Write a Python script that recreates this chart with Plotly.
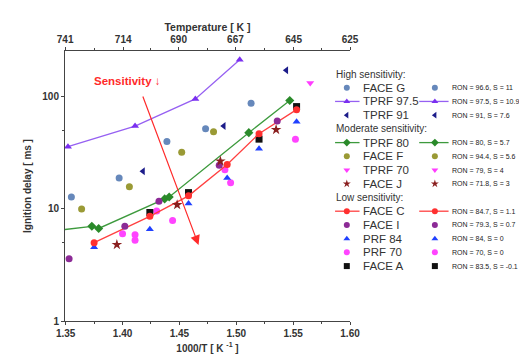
import plotly.graph_objects as go
import numpy as np

# ---------------- data ----------------
face_g_x = [1.355, 1.397, 1.439, 1.473, 1.513]
face_g_y = [12.8, 18.9, 40.0, 52.0, 88.0]

tprf975_x = [1.352, 1.411, 1.464, 1.503]
tprf975_y = [36.0, 55.0, 96.0, 215.0]

tprf91_x = [1.418, 1.489, 1.544]
tprf91_y = [21.7, 55.0, 173.0]

tprf80_x = [1.346, 1.373, 1.379, 1.437, 1.441, 1.511, 1.547]
tprf80_y = [6.5, 7.0, 6.7, 12.3, 12.8, 48.0, 93.0]

face_f_x = [1.364, 1.406, 1.452, 1.480]
face_f_y = [10.0, 15.8, 32.0, 49.0]

tprf70_x = [1.565]
tprf70_y = [133.0]

face_j_x = [1.395, 1.448, 1.486, 1.535]
face_j_y = [4.8, 10.9, 26.7, 51.0]

face_a_x = [1.424, 1.458, 1.520, 1.553]
face_a_y = [9.3, 14.0, 42.0, 82.0]

prf84_x = [1.375, 1.424, 1.458, 1.492, 1.520, 1.553]
prf84_y = [4.55, 6.6, 11.2, 18.9, 34.5, 60.0]

prf70_x = [1.400, 1.411, 1.411, 1.430, 1.444, 1.490, 1.495, 1.552]
prf70_y = [6.0, 5.9, 5.25, 9.6, 7.9, 22.4, 17.1, 42.0]

face_i_x = [1.353, 1.402, 1.432, 1.485, 1.536]
face_i_y = [3.6, 7.0, 11.7, 24.6, 61.0]

face_c_x = [1.375, 1.424, 1.458, 1.492, 1.520, 1.553]
face_c_y = [5.0, 8.6, 13.1, 24.9, 47.0, 77.0]

x_ticks = [1.35, 1.40, 1.45, 1.50, 1.55, 1.60]
y_ticks = [1, 10, 100]
temp_ticks = [741, 714, 690, 667, 645, 625]

# legend content
group_titles = ["High sensitivity:", "Moderate sensitivity:", "Low sensitivity:"]
legend_names = ["FACE G", "TPRF 97.5", "TPRF 91",
                "TPRF 80", "FACE F", "TPRF 70", "FACE J",
                "FACE C", "FACE I", "PRF 84", "PRF 70", "FACE A"]
legend_ron = ["RON = 96.6, S = 11", "RON = 97.5, S = 10.9", "RON = 91, S = 7.6",
              "RON = 80, S = 5.7", "RON = 94.4, S = 5.6", "RON = 79, S = 4", "RON = 71.8, S = 3",
              "RON = 84.7, S = 1.1", "RON = 79.3, S = 0.7", "RON = 84, S = 0", "RON = 70, S = 0",
              "RON = 83.5, S = -0.1"]

# ---------------- styles ----------------
series = [
    # name, x, y, symbol, color, has_line, line color, group index
    ("FACE G", face_g_x, face_g_y, "circle", "#6688bb", False, None, 0),
    ("TPRF 97.5", tprf975_x, tprf975_y, "triangle-up", "#7a2ff0", True, "#9660f2", 0),
    ("TPRF 91", tprf91_x, tprf91_y, "triangle-left", "#1c1c8a", False, None, 0),
    ("TPRF 80", tprf80_x, tprf80_y, "diamond", "#2a8a2a", True, "#3d9a3d", 1),
    ("FACE F", face_f_x, face_f_y, "circle", "#9a9a35", False, None, 1),
    ("TPRF 70", tprf70_x, tprf70_y, "triangle-down", "#ff3cff", False, None, 1),
    ("FACE J", face_j_x, face_j_y, "star", "#8a1f1f", False, None, 1),
    ("FACE C", face_c_x, face_c_y, "circle", "#ff3030", True, "#ff4040", 2),
    ("FACE I", face_i_x, face_i_y, "circle", "#8c2a96", False, None, 2),
    ("PRF 84", prf84_x, prf84_y, "triangle-up", "#2040ff", False, None, 2),
    ("PRF 70", prf70_x, prf70_y, "circle", "#ff44ff", False, None, 2),
    ("FACE A", face_a_x, face_a_y, "square", "#111111", False, None, 2),
]
# drawing order (back to front)
draw_order = ["TPRF 97.5", "TPRF 80", "FACE G", "FACE F", "TPRF 91", "TPRF 70",
              "PRF 70", "PRF 84", "FACE A", "FACE C", "FACE I", "FACE J"]

W, H = 527, 356
ML, MR, MT, MB = 57, 5, 43, 43
PW = W - ML - MR
main_right_px = 348.3
dx = (main_right_px - ML) / PW
X_RANGE = [1.3494, 1.60]

FONT = "Liberation Sans, Arial, sans-serif"

fig = go.Figure()

lookup = {s[0]: s for s in series}
for nm in draw_order:
    name, xs, ys, sym, col, has_line, lcol, g = lookup[nm]
    fig.add_trace(go.Scatter(
        x=xs, y=ys, name=name,
        mode="lines+markers" if has_line else "markers",
        line=dict(color=lcol, width=1.3) if has_line else None,
        marker=dict(symbol=sym, color=col, size=7 if sym != "star" else 8,
                    line=dict(width=0)),
        cliponaxis=(nm == "TPRF 80"), showlegend=False,
    ))

# hidden trace to anchor the top temperature axis
fig.add_trace(go.Scatter(x=[1000.0 / t for t in temp_ticks], y=[None] * len(temp_ticks),
                         xaxis="x2", yaxis="y", showlegend=False, hoverinfo="skip"))

# ---------------- custom legend drawn on a pixel-scaled overlay axis ----------------
row_y0, row_dy = 66.0, 13.72
rows = []
for g in range(3):
    rows.append(("title", group_titles[g]))
    for s_i, s in enumerate(series):
        if s[7] == g:
            rows.append(("item", s_i))

annotations = []
for r, (kind, payload) in enumerate(rows):
    ypx = row_y0 + r * row_dy
    if kind == "title":
        annotations.append(dict(x=332, y=ypx, xref="x3", yref="y3", text=payload,
                                showarrow=False, xanchor="left", yanchor="middle",
                                font=dict(family=FONT, size=10, color="#333333")))
        continue
    name, xs, ys, sym, col, has_line, lcol, g = series[payload]
    for (lx0, mx, lx1, tx, txt, fsz) in [(333, 345, 358, 360, legend_names[payload], 11.5),
                                          (419, 435, 449, 450, legend_ron[payload], 7)]:
        if has_line:
            fig.add_trace(go.Scatter(x=[lx0, lx1], y=[ypx, ypx], mode="lines",
                                     line=dict(color=lcol, width=1.3),
                                     xaxis="x3", yaxis="y3", showlegend=False,
                                     hoverinfo="skip", cliponaxis=False))
        fig.add_trace(go.Scatter(x=[mx], y=[ypx], mode="markers",
                                 marker=dict(symbol=sym, color=col, size=6, line=dict(width=0)),
                                 xaxis="x3", yaxis="y3", showlegend=False,
                                 hoverinfo="skip", cliponaxis=False))
        annotations.append(dict(x=tx, y=ypx, xref="x3", yref="y3", text=txt,
                                showarrow=False, xanchor="left", yanchor="middle",
                                font=dict(family=FONT, size=fsz,
                                          color="#333333" if fsz > 8 else "#222222")))

# Sensitivity label and arrow
annotations.append(dict(x=120, y=73, xref="x3", yref="y3",
                        text="<b>Sensitivity</b> \u2193", showarrow=False,
                        xanchor="center", yanchor="middle",
                        font=dict(family=FONT, size=11.5, color="#ff2a2a")))
annotations.append(dict(x=193.5, y=237, xref="x3", yref="y3", ax=136, ay=87,
                        axref="x3", ayref="y3", text="", showarrow=True,
                        arrowhead=2, arrowsize=1.6, arrowwidth=1.2, arrowcolor="#ff2a2a"))

fig.update_layout(
    width=W, height=H,
    margin=dict(l=ML, r=MR, t=MT, b=MB),
    paper_bgcolor="white", plot_bgcolor="rgba(0,0,0,0)",
    showlegend=False,
    font=dict(family=FONT, color="#222222"),
    annotations=annotations,
    xaxis=dict(domain=[0, dx], range=X_RANGE, tickmode="array", tickvals=x_ticks,
               ticktext=[f"{v:.2f}" for v in x_ticks],
               ticks="outside", ticklen=3, tickcolor="#444", showline=True,
               linecolor="#444", linewidth=1, showgrid=False, zeroline=False,
               minor=dict(tickmode="array",
                          tickvals=[v + 0.025 for v in x_ticks[:-1]],
                          ticks="outside", ticklen=2, tickcolor="#444"),
               tickfont=dict(family=FONT, size=10, weight="bold", color="#333"),
               title=dict(text="<b>1000/T [ K <sup>-1</sup> ]</b>", standoff=6,
                          font=dict(family=FONT, size=10, color="#333"))),
    xaxis2=dict(overlaying="x", side="top", anchor="y", domain=[0, dx],
                range=X_RANGE, tickmode="array",
                tickvals=[1000.0 / t for t in temp_ticks],
                ticktext=[str(t) for t in temp_ticks],
                ticks="outside", ticklen=3, tickcolor="#444", showline=True,
                linecolor="#444", linewidth=1, showgrid=False, zeroline=False,
                minor=dict(tickmode="array",
                           tickvals=[v + 0.025 for v in x_ticks[:-1]],
                           ticks="outside", ticklen=2, tickcolor="#444"),
                tickfont=dict(family=FONT, size=10, weight="bold", color="#333"),
                title=dict(text="<b>Temperature [ K ]</b>", standoff=0,
                           font=dict(family=FONT, size=10.5, color="#333"))),
    yaxis=dict(type="log", range=[0, 2.41], tickmode="array", tickvals=y_ticks,
               ticktext=[str(v) for v in y_ticks],
               ticks="outside", ticklen=3, tickcolor="#444", showline=True,
               linecolor="#444", linewidth=1, showgrid=False, zeroline=False,
               minor=dict(tickmode="array", tickvals=[5, 50],
                          ticks="outside", ticklen=2, tickcolor="#444"),
               tickfont=dict(family=FONT, size=10, weight="bold", color="#333"),
               title=dict(text="<b>Ignition delay [ ms ]</b>", standoff=8,
                          font=dict(family=FONT, size=10, color="#333"))),
    xaxis3=dict(domain=[0, 1], range=[ML, W - MR], visible=False, fixedrange=True),
    yaxis3=dict(domain=[0, 1], anchor="x3", range=[H - MB, MT], visible=False, fixedrange=True),
)

fig.write_html("out.html")
